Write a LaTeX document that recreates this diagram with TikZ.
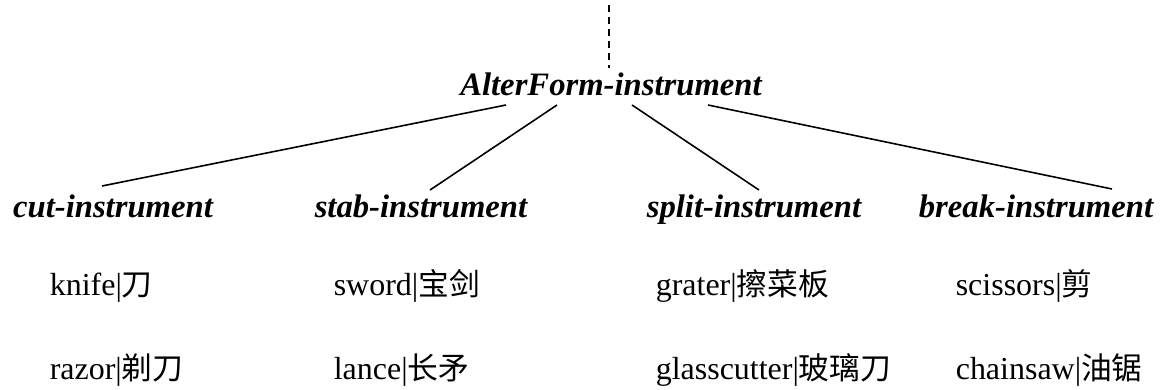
\documentclass[tikz,border=0pt]{standalone}
\usepackage{fontspec}
\setmainfont{Liberation Serif}
\newfontfamily\cjk{Noto Sans CJK SC}
\usetikzlibrary{calc}
\tikzset{
  concept/.style={font=\fontsize{18.6}{22}\selectfont\bfseries\itshape, anchor=base, inner sep=2pt},
  word/.style={font=\fontsize{18.2}{22}\selectfont, anchor=base west, inner sep=0pt},
}
\newcommand{\zh}[1]{{\cjk\fontsize{17.5}{22}\selectfont #1}}
\begin{document}
\begin{tikzpicture}[x=0.02cm, y=-0.02cm, line width=0.9pt]
      \useasboundingbox (0,0) rectangle (1166,389);
      \node[concept] (root) at (611,95) {AlterForm-instrument};
      \node[concept] (cut) at (113,217) {cut-instrument};
      \node[concept] (stab) at (421,217) {stab-instrument};
      \node[concept] (split) at (754,217) {split-instrument};
      \node[concept] (break) at (1036,217) {break-instrument};
      \node[word] (knife) at (49,295) {knife|\zh{刀}};
      \node[word] (razor) at (49,379) {razor|\zh{剃刀}};
      \node[word] (sword) at (333,295) {sword|\zh{宝剑}};
      \node[word] (lance) at (333,379) {lance|\zh{长矛}};
      \node[word] (grater) at (655,295) {grater|\zh{擦菜板}};
      \node[word] (glasscutter) at (655,379) {glasscutter|\zh{玻璃刀}};
      \node[word] (scissors) at (955,295) {scissors|\zh{剪}};
      \node[word] (chainsaw) at (955,379) {chainsaw|\zh{油锯}};
      \coordinate (top) at (609,5);
      \draw[dash pattern=on 4pt off 2.8pt] (top) -- (top |- root.north);
      \begin{scope}[-]
        \draw ($(root.base)+(-105,10)$) to ($(cut.base)+(-11,-31)$);
        \draw ($(root.base)+(-54,10)$) to ($(stab.base)+(9,-27)$);
        \draw ($(root.base)+(21,10)$) to ($(split.base)+(5,-27)$);
        \draw ($(root.base)+(97,10)$) to ($(break.base)+(76,-28)$);
      \end{scope}
    \end{tikzpicture}
\end{document}
